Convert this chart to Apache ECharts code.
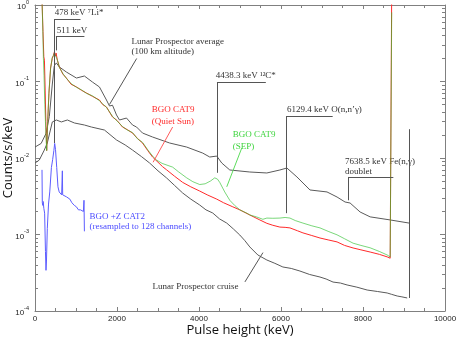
<!DOCTYPE html>
<html>
<head>
<meta charset="utf-8">
<script src="https://cdn.jsdelivr.net/npm/echarts@6/dist/echarts.min.js"></script>
<style>
  html, body { margin: 0; padding: 0; background: #fff; }
  #chart { width: 457px; height: 339px; }
</style>
</head>
<body>
<div id="chart"></div>
<script>
// Lunar Prospector average (100 km altitude)
const lpAvgKeV = [0, 150, 270, 350, 420, 470, 520, 594, 765, 1010, 1205, 1400, 1572, 1743, 1817, 1890, 1988, 2061, 2232, 2379, 2477, 2623, 2868, 3284, 3699, 4090, 4262, 4433, 4555, 4751, 5240, 5655, 5973, 6144, 6389, 6707, 7122, 7367, 7562, 7685, 7929, 8174, 8663, 9127]
const lpAvgRate = [0.0139, 0.0155, 0.021, 0.035, 0.09, 0.16, 0.175, 0.155, 0.133, 0.111, 0.118, 0.0985, 0.0848, 0.0573, 0.0478, 0.049, 0.0365, 0.0314, 0.0333, 0.027, 0.0254, 0.0212, 0.0188, 0.0157, 0.0139, 0.0116, 0.0103, 0.0106, 0.0086, 0.00697, 0.00656, 0.00637, 0.00697, 0.0074, 0.00565, 0.00382, 0.0036, 0.00309, 0.00266, 0.00258, 0.00197, 0.0017, 0.00155, 0.00141]

// Lunar Prospector cruise
const lpCruiseKeV = [0, 105, 227, 300, 375, 423, 521, 643, 790, 961, 1205, 1376, 1694, 1988, 2200, 2379, 2600, 2795, 3000, 3210, 3400, 3601, 3800, 4017, 4170, 4335, 4500, 4677, 4840, 4995, 5120, 5240, 5435, 5655, 5850, 6046, 6250, 6462, 6700, 6951, 7100, 7269, 7450, 7611, 7850, 8101, 8350, 8589, 8700, 8834, 8950, 9078]
const lpCruiseRate = [0.0086, 0.0094, 0.0127, 0.0157, 0.0232, 0.0296, 0.0314, 0.0296, 0.0314, 0.0287, 0.027, 0.0254, 0.0232, 0.0172, 0.0148, 0.0127, 0.0104, 0.0086, 0.0068, 0.00548, 0.0044, 0.00349, 0.0029, 0.00243, 0.0021, 0.00191, 0.0016, 0.00141, 0.00118, 0.000985, 0.00083, 0.000687, 0.00054, 0.000464, 0.00042, 0.000376, 0.00036, 0.000333, 0.0003, 0.000278, 0.000262, 0.000239, 0.000232, 0.000219, 0.000205, 0.000188, 0.00018, 0.000172, 0.000165, 0.000157, 0.000153, 0.000148]

// BGO CAT9 (Quiet Sun)
const quietKeV = [170, 195, 215, 230, 245, 265, 285, 310, 340, 380, 420, 450, 475, 495, 515, 545, 594, 680, 765, 880, 1010, 1130, 1254, 1400, 1572, 1650, 1743, 1890, 2000, 2134, 2250, 2379, 2500, 2623, 2750, 2868, 3000, 3112, 3210, 3400, 3601, 3800, 4017, 4200, 4433, 4600, 4824, 4995, 5240, 5484, 5655, 5800, 5973, 6100, 6218, 6400, 6535, 6750, 6951, 7150, 7367, 7550, 7758, 7950, 8174, 8400, 8589, 8663, 8690, 8700]
const quietRate = [1.2, 0.45, 0.21, 0.19, 0.09, 0.03, 0.0125, 0.03, 0.07, 0.15, 0.2, 0.22, 0.245, 0.215, 0.235, 0.19, 0.155, 0.125, 0.111, 0.092, 0.085, 0.077, 0.0708, 0.064, 0.0573, 0.05, 0.0464, 0.0344, 0.031, 0.0254, 0.0235, 0.0212, 0.018, 0.0157, 0.0125, 0.0103, 0.0088, 0.0077, 0.007, 0.0058, 0.0048, 0.0042, 0.0037, 0.0033, 0.0029, 0.0026, 0.0023, 0.0021, 0.0018, 0.00155, 0.0014, 0.00132, 0.00125, 0.00124, 0.00122, 0.00112, 0.00105, 0.00097, 0.0009, 0.00085, 0.0008, 0.00072, 0.000667, 0.00063, 0.00059, 0.00055, 0.00051, 0.00049, 0.00049, 1.5]

// BGO CAT9 (SEP)
const sepKeV = [170, 190, 205, 220, 240, 260, 285, 310, 340, 380, 420, 450, 475, 495, 515, 545, 594, 680, 765, 880, 1010, 1130, 1254, 1400, 1572, 1650, 1743, 1890, 2000, 2134, 2250, 2379, 2500, 2623, 2750, 2868, 2966, 3100, 3357, 3500, 3700, 3850, 4017, 4150, 4280, 4384, 4450, 4506, 4628, 4751, 4870, 4995, 5166, 5240, 5400, 5558, 5655, 5800, 5973, 6100, 6218, 6350, 6535, 6750, 6951, 7150, 7367, 7550, 7758, 7950, 8174, 8400, 8589, 8663, 8690, 8700]
const sepRate = [1.2, 0.5, 0.2, 0.12, 0.05, 0.025, 0.0125, 0.031, 0.072, 0.148, 0.205, 0.218, 0.24, 0.22, 0.23, 0.192, 0.153, 0.127, 0.11, 0.094, 0.084, 0.078, 0.07, 0.065, 0.056, 0.051, 0.046, 0.035, 0.0305, 0.0258, 0.0232, 0.0215, 0.0178, 0.016, 0.0128, 0.0106, 0.0094, 0.0085, 0.0076, 0.0066, 0.0055, 0.0049, 0.0045, 0.0046, 0.005, 0.0055, 0.0053, 0.0048, 0.0036, 0.0028, 0.0024, 0.0021, 0.0019, 0.0018, 0.0017, 0.00158, 0.00164, 0.00163, 0.00164, 0.00167, 0.00164, 0.00152, 0.00141, 0.0013, 0.00122, 0.0011, 0.00099, 0.00088, 0.00077, 0.00072, 0.00067, 0.0006, 0.00054, 0.00051, 0.00051, 0.8]

// BGO +Z CAT2 (resampled to 128 channels)
const cat2KeV = [171, 178, 190, 200, 215, 235, 255, 268, 280, 300, 330, 360, 400, 430, 460, 480, 500, 530, 560, 590, 620, 650, 662, 667, 675, 700, 770, 850, 900, 960, 1010, 1060, 1110, 1150, 1180, 1195, 1205]
const cat2Rate = [0.007, 0.0026, 0.0024, 0.0027, 0.0022, 0.0019, 0.0006, 0.00034, 0.00045, 0.0012, 0.0025, 0.0036, 0.0075, 0.0095, 0.0125, 0.0155, 0.013, 0.0075, 0.0042, 0.0036, 0.0034, 0.0033, 0.0033, 0.0068, 0.0033, 0.0032, 0.0031, 0.0029, 0.0026, 0.0024, 0.0023, 0.0021, 0.0021, 0.002, 0.002, 0.0028, 0.0011]

// line identifications and leader lines: [[keV, rate], [keV, rate], colour]
const leaderLines = [
  [[478, 0.656], [1110, 0.656], '#555'],
  [[478, 0.656], [478, 0.0157], '#555'],
  [[511, 0.393], [1205, 0.393], '#555'],
  [[511, 0.393], [511, 0.255], '#555'],
  [[4438.3, 0.0985], [5630, 0.0985], '#555'],
  [[4438.3, 0.0985], [4438.3, 0.0064], '#555'],
  [[6129.4, 0.0354], [7260, 0.0354], '#555'],
  [[6129.4, 0.0354], [6129.4, 0.0019], '#555'],
  [[7638.5, 0.00565], [8740, 0.00565], '#555'],
  [[7638.5, 0.00565], [7638.5, 0.0028], '#555'],
  [[9127, 0.0238], [9127, 0.000148], '#555'],
  [[2480, 0.2], [1817, 0.05], '#555'],
  [[5120, 0.00024], [5560, 0.00058], '#555'],
  [[3357, 0.0254], [2880, 0.0088], '#ff5a5a'],
  [[5043, 0.0135], [4677, 0.0042], '#5cdc5c']
]

// text labels: [text, keV, rate, colour]
const notes = [
  ['478 keV \u2077Li*', 484, 0.786, '#333'],
  ['511 keV', 533, 0.457, '#333'],
  ['Lunar Prospector average', 2355, 0.328, '#333'],
  ['(100 km altitude)', 2355, 0.243, '#333'],
  ['4438.3 keV \u00b9\u00b2C*', 4408, 0.118, '#333'],
  ['6129.4 keV O(n,n\u2019\u03b3)', 6144, 0.0424, '#333'],
  ['7638.5 keV Fe(n,\u03b3)', 7562, 0.00886, '#333'],
  ['doublet', 7562, 0.00655, '#333'],
  ['BGO CAT9', 2846, 0.0424, '#ff2b2b'],
  ['(Quiet Sun)', 2846, 0.0296, '#ff2b2b'],
  ['BGO CAT9', 4824, 0.02, '#3ed43e'],
  ['(SEP)', 4824, 0.0139, '#3ed43e'],
  ['BGO +Z CAT2', 1328, 0.00169, '#4d4dff'],
  ['(resampled to 128 channels)', 1328, 0.00126, '#4d4dff'],
  ['Lunar Prospector cruise', 2868, 0.000208, '#333']
]

const yMinor = []
for (let d = -4; d < 0; d++) {
  for (let m = 2; m <= 9; m++) yMinor.push(m * Math.pow(10, d))
}

const zip = (xs, ys) => xs.map((x, i) => [x, ys[i]])

const chart = echarts.init(document.getElementById('chart'))
const frame = '#808080'
const tickFont = 'Liberation Sans'

const xCommon = {
  type: 'value',
  min: 0,
  max: 10000,
  interval: 2000,
  splitLine: { show: false },
  axisLine: { lineStyle: { color: frame, width: 1 } },
  axisTick: { inside: true, length: 4, lineStyle: { color: frame } },
  minorTick: { show: true, splitNumber: 4, length: 3, lineStyle: { color: frame } }
}
const yCommon = {
  type: 'log',
  logBase: 10,
  min: 0.0001,
  max: 1,
  splitLine: { show: false },
  minorTick: { show: false }
}

chart.setOption({
  animation: false,
  grid: { left: 35, right: 12, top: 5, bottom: 28, containLabel: false, outerBoundsMode: 'none' },
  xAxis: [
    Object.assign({}, xCommon, {
      position: 'bottom',
      name: 'Pulse height (keV)',
      nameLocation: 'middle',
      nameGap: 13,
      nameMoveOverlap: false,
      nameTextStyle: { fontFamily: 'Open Sans', fontSize: 13, color: '#111' },
      axisLabel: { fontFamily: tickFont, fontSize: 8, color: '#222', margin: 4, formatter: v => String(v) }
    }),
    Object.assign({}, xCommon, {
      position: 'top',
      axisLabel: { show: false }
    })
  ],
  yAxis: [
    Object.assign({}, yCommon, {
      position: 'left',
      name: 'Counts/s/keV',
      nameLocation: 'middle',
      nameGap: 20,
      nameMoveOverlap: false,
      nameTextStyle: { fontFamily: 'Open Sans', fontSize: 13, color: '#111' },
      axisLine: { show: true, lineStyle: { color: frame } },
      axisTick: { inside: true, length: 5, lineStyle: { color: frame } },
      axisLabel: {
        margin: 6,
        formatter: v => '{b|10}{s|' + Math.round(Math.log10(v)) + '}',
        rich: {
          b: { fontFamily: tickFont, fontSize: 8, color: '#222', lineHeight: 12, verticalAlign: 'bottom' },
          s: { fontFamily: tickFont, fontSize: 5.5, color: '#222', lineHeight: 12, verticalAlign: 'top' }
        }
      }
    }),
    Object.assign({}, yCommon, {
      position: 'left',
      axisLine: { show: false },
      axisLabel: { show: false },
      axisTick: { inside: true, length: 3, customValues: yMinor, lineStyle: { color: frame } }
    }),
    Object.assign({}, yCommon, {
      position: 'right',
      axisLine: { show: true, lineStyle: { color: frame } },
      axisLabel: { show: false },
      axisTick: { inside: true, length: 5, lineStyle: { color: frame } }
    }),
    Object.assign({}, yCommon, {
      position: 'right',
      axisLine: { show: false },
      axisLabel: { show: false },
      axisTick: { inside: true, length: 3, customValues: yMinor, lineStyle: { color: frame } }
    })
  ],
  series: [
    {
      name: 'Lunar Prospector cruise',
      type: 'line',
      symbol: 'none',
      lineStyle: { color: '#5a5a5a', width: 1 },
      data: zip(lpCruiseKeV, lpCruiseRate)
    },
    {
      name: 'Lunar Prospector average',
      type: 'line',
      symbol: 'none',
      lineStyle: { color: '#5a5a5a', width: 1 },
      data: zip(lpAvgKeV, lpAvgRate),
      markLine: {
        silent: true,
        symbol: ['none', 'none'],
        label: { show: false },
        data: leaderLines.map(l => [
          { coord: l[0], lineStyle: { color: l[2], width: 1, type: 'solid' } },
          { coord: l[1] }
        ])
      }
    },
    {
      name: 'BGO +Z CAT2',
      type: 'line',
      symbol: 'none',
      lineStyle: { color: '#5c5cff', width: 1 },
      data: zip(cat2KeV, cat2Rate)
    },
    {
      name: 'BGO CAT9 (Quiet Sun)',
      type: 'line',
      symbol: 'none',
      lineStyle: { color: '#ff2a2a', width: 1 },
      data: zip(quietKeV, quietRate)
    },
    {
      name: 'BGO CAT9 (SEP)',
      type: 'line',
      symbol: 'none',
      lineStyle: { color: '#33c233', width: 1, opacity: 0.65 },
      data: zip(sepKeV, sepRate)
    }
  ]
})

// place the text notes through the axes
chart.setOption({
  graphic: notes.map(n => {
    const p = chart.convertToPixel({ seriesIndex: 0 }, [n[1], n[2]])
    return {
      type: 'text',
      x: p[0],
      y: p[1],
      silent: true,
      style: {
        text: n[0],
        fill: n[3],
        font: '9px "Liberation Serif", serif',
        align: 'left',
        verticalAlign: 'middle',
        textAlign: 'left',
        textVerticalAlign: 'middle'
      }
    }
  })
})
</script>
</body>
</html>
